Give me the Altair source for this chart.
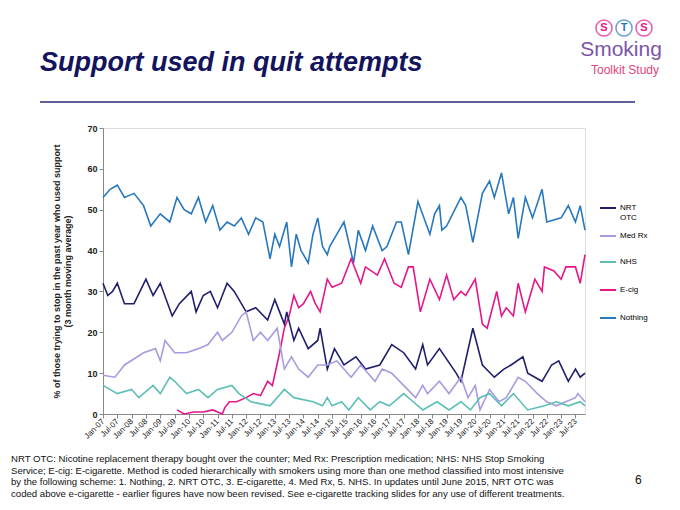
import pandas as pd
import altair as alt

# month index 0 = Jan-07
nothing_m = [0, 3, 6, 9, 13, 17, 20, 24, 28, 31, 34, 37, 40, 43, 46, 49, 52, 55, 58, 61, 64, 67, 70, 72, 74, 77, 79, 81, 83, 86, 88, 90, 92, 94,
             95, 101, 105, 107, 110, 113, 117, 119, 123, 125, 128, 132, 137, 139, 141, 142, 144, 150, 152, 155, 159, 162, 164, 167, 170, 172, 174, 177, 180, 184, 186, 192, 195, 198, 200, 202]
nothing_v = [53, 55, 56, 53, 54, 51, 46, 49, 47, 53, 50, 49, 53, 47, 51, 45, 47, 46, 48, 44, 48, 47, 38, 44, 41, 47, 36, 44, 40, 37, 44, 48, 41, 39,
             41, 47, 37, 45, 40, 46, 40, 41, 47, 47, 39, 52, 44, 49, 51, 45, 46, 53, 51, 42, 54, 57, 53, 59, 49, 53, 43, 53, 48, 55, 47, 48, 51, 47, 51, 45]

ecig_m = [31, 34, 38, 42, 46, 50, 51, 53, 56, 60, 63, 66, 69, 71, 74, 76, 78, 80, 82, 84, 87, 89, 91, 94,
          96, 100, 104, 108, 110, 115, 118, 122, 125, 128, 130, 133, 137, 141, 144, 147, 150, 152, 156, 159, 161, 165, 167, 169, 172, 174, 177, 181, 184, 185, 189, 192, 194, 198, 200, 202]
ecig_v = [1, 0, 0.5, 0.5, 1, 0, 1.5, 3, 3, 4, 5, 4.5, 8, 7, 15, 21, 24, 29, 26, 27, 30, 27, 25, 33,
          31, 32, 38, 32, 36, 34, 38, 32, 31, 36, 36, 25, 33, 28, 34, 28, 30, 29, 33, 22, 21, 30, 24, 26, 24, 32, 25, 33, 30, 36, 35, 33, 36, 36, 32, 39]

nrt_m = [0, 2, 4, 6, 9, 13, 18, 21, 24, 29, 32, 37, 39, 42, 45, 48, 52, 55, 60, 64, 69, 72, 76, 77, 80, 82, 86, 90, 91, 94,
         97, 101, 106, 110, 116, 121, 126, 131, 134, 136, 141, 148, 150, 155, 159, 164, 168, 171, 176, 178, 184, 188, 191, 195, 198, 200, 202]
nrt_v = [32, 29, 30, 32, 27, 27, 33, 29, 32, 24, 27, 30, 25, 29, 30, 26, 32, 30, 25, 26, 23, 28, 22, 25, 18, 21, 16, 18, 21, 11,
         16, 12, 14, 11, 12, 17, 15, 11, 17, 12, 16, 10, 8, 21, 12, 9, 11, 12, 14, 10, 8, 12, 13, 8, 11, 9, 10]

medrx_m = [0, 5, 9, 17, 22, 24, 26, 30, 35, 40, 44, 48, 50, 54, 58, 60, 63, 66, 69, 73, 76, 79, 82, 86, 90, 94,
           98, 104, 108, 114, 117, 121, 126, 131, 134, 136, 141, 145, 150, 153, 156, 158, 162, 166, 169, 174, 177, 182, 186, 190, 194, 198, 199, 202]
medrx_v = [9.5, 9, 12, 15, 16, 13, 18, 15, 15, 16, 17, 20, 18, 20, 24, 25, 18, 20, 18, 21, 11, 14, 11, 9, 12, 12,
           13, 9, 12, 8, 11, 10, 7, 4, 7, 5, 8, 5, 9, 4, 7, 1, 6, 3, 4, 9, 8, 5, 3, 2, 3, 4, 5, 3]

nhs_m = [0, 6, 12, 15, 21, 24, 28, 30, 35, 40, 44, 48, 54, 57, 62, 70, 76, 80, 88, 92, 94, 96, 100, 103, 107, 112, 116, 120, 126, 130,
         134, 140, 145, 150, 154, 158, 162, 167, 172, 178, 185, 190, 195, 200, 202]
nhs_v = [7, 5, 6, 4, 7, 5, 9, 8, 5, 6, 4, 6, 7, 5, 3, 2, 6, 4, 3, 2, 4, 2, 3, 1, 4, 1, 3, 2, 5, 3,
         1, 3, 1, 3, 1, 4, 5, 2, 5, 1, 2, 3, 2, 3, 2]

series = ["NRT OTC", "Med Rx", "NHS", "E-cig", "Nothing"]
colors = ["#1f1f6e", "#a99be0", "#5bbfb5", "#e6168a", "#2878bd"]

tick_labels = []
for yr in range(7, 24):
    tick_labels += ["Jan-%02d" % yr, "Jul-%02d" % yr]

footnote = [
    "NRT OTC: Nicotine replacement therapy bought over the counter; Med Rx: Prescription medication; NHS: NHS Stop Smoking",
    "Service; E-cig: E-cigarette. Method is coded hierarchically with smokers using more than one method classified into most intensive",
    "by the following scheme: 1. Nothing, 2. NRT OTC, 3. E-cigarette, 4. Med Rx, 5. NHS. In updates until June 2015, NRT OTC was",
    "coded above e-cigarette - earlier figures have now been revised. See e-cigarette tracking slides for any use of different treatments.",
]

rows = []
for name, ms, vs in [("Nothing", nothing_m, nothing_v), ("E-cig", ecig_m, ecig_v), ("NRT OTC", nrt_m, nrt_v),
                     ("Med Rx", medrx_m, medrx_v), ("NHS", nhs_m, nhs_v)]:
    for m, v in zip(ms, vs):
        rows.append({"series": name, "month": m, "value": v})
df = pd.DataFrame(rows)

W, H = 482, 286
lab_js = "[" + ",".join("'%s'" % t for t in tick_labels) + "]"

lines = alt.Chart(df).mark_line(strokeWidth=1.6).encode(
    x=alt.X("month:Q", scale=alt.Scale(domain=[0, 202], nice=False),
            axis=alt.Axis(values=list(range(0, 204, 6)), labelExpr=lab_js + "[datum.value/6]",
                          labelAngle=-45, labelAlign="right", labelBaseline="middle", labelFontSize=8,
                          labelColor="#222", labelOverlap=False, labelPadding=2,
                          title=None, grid=False, domainColor="#888", tickColor="#888", tickSize=4)),
    y=alt.Y("value:Q", scale=alt.Scale(domain=[0, 70]),
            axis=alt.Axis(values=list(range(0, 71, 10)), title=["% of those trying to stop in the past year who used support",
                                                               "(3 month moving average)"],
                          titleFontSize=9, titleFontWeight="bold", titleColor="#222", titlePadding=14,
                          labelFontSize=9, labelColor="#222", labelFontWeight="bold", grid=False,
                          domainColor="#888", tickColor="#888", tickSize=4)),
    color=alt.Color("series:N", scale=alt.Scale(domain=series, range=colors), legend=None),
    detail="series:N",
)

leg = pd.DataFrame({"series": series, "y": [80, 108, 134, 162, 190],
                    "label": [["NRT", "OTC"], ["Med Rx"], ["NHS"], ["E-cig"], ["Nothing"]]})
leg_lines = alt.Chart(leg).mark_rule(strokeWidth=2).encode(
    x=alt.value(497), x2=alt.value(513), y=alt.Y("y:Q", scale=None),
    color=alt.Color("series:N", scale=alt.Scale(domain=series, range=colors), legend=None))
leg_text = alt.Chart(leg).mark_text(align="left", baseline="middle", fontSize=8, dx=0, lineHeight=10, font="Liberation Sans").encode(
    x=alt.value(517), y=alt.Y("y:Q", scale=None), text="label")

one = pd.DataFrame({"a": [0]})
title = alt.Chart(one).mark_text(text="Support used in quit attempts", fontSize=27, fontWeight="bold",
                                 fontStyle="italic", color="#14145e", align="left", baseline="alphabetic",
                                 font="Liberation Sans").encode(x=alt.value(-63), y=alt.value(-57))
hline = alt.Chart(one).mark_rule(color="#2b2b7a", strokeWidth=1.5).encode(
    x=alt.value(-63), x2=alt.value(532), y=alt.value(-26))
foot = alt.Chart(one).mark_text(text=footnote, fontSize=9.6, align="left", baseline="top", lineHeight=11.6,
                                color="#111", font="Liberation Sans").encode(x=alt.value(-92), y=alt.value(326))
page = alt.Chart(one).mark_text(text="6", fontSize=12, align="left", color="#111").encode(
    x=alt.value(532), y=alt.value(352))

circ = pd.DataFrame({"x": [501, 521, 541], "t": ["S", "T", "S"], "c": ["#e6168a", "#2878bd", "#e6168a"]})
circles = alt.Chart(circ).mark_point(size=260, filled=False, strokeWidth=1.5).encode(
    x=alt.X("x:Q", scale=None), y=alt.value(-100), color=alt.Color("c:N", scale=None))
circ_t = alt.Chart(circ).mark_text(fontSize=11, fontWeight="bold", baseline="middle").encode(
    x=alt.X("x:Q", scale=None), y=alt.value(-100), text="t", color=alt.Color("c:N", scale=None))
smoking = alt.Chart(one).mark_text(text="Smoking", fontSize=21, color="#7d55a8", align="center",
                                   font="Liberation Sans").encode(x=alt.value(518), y=alt.value(-78))
toolkit = alt.Chart(one).mark_text(text="Toolkit Study", fontSize=12, color="#e0457b", align="center",
                                   font="Liberation Sans").encode(x=alt.value(522), y=alt.value(-58))

chart = alt.layer(lines, leg_lines, leg_text, title, hline, foot, page, circles, circ_t, smoking, toolkit).properties(
    width=W, height=H, autosize=alt.AutoSizeParams(type="none"),
    padding={"left": 95, "top": 120, "right": 87, "bottom": 88},
).configure_view(strokeWidth=0).configure(font="Liberation Sans")

chart.save("out.html", embed_options={"renderer": "svg", "actions": False})
